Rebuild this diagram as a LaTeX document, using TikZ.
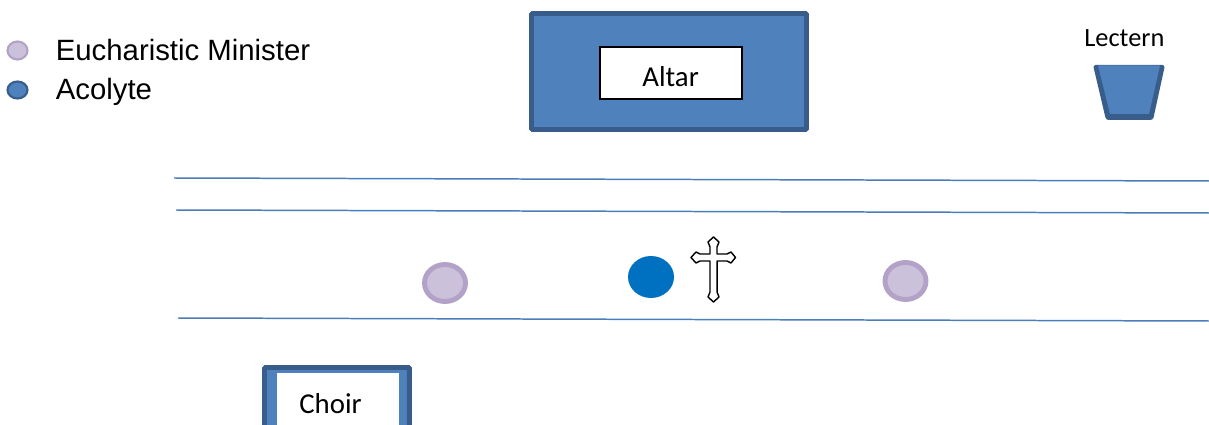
\documentclass[tikz,border=0pt]{standalone}
\usepackage{fontspec}
\setmainfont{Liberation Sans}
\newfontfamily\CarlitoFont{Carlito}
\usepackage{xcolor}
\definecolor{ColBlue}{RGB}{79,129,189}
\definecolor{ColDark}{RGB}{56,93,138}
\definecolor{ColLine}{RGB}{74,126,187}
\definecolor{ColLilac}{RGB}{204,193,218}
\definecolor{ColLilacDark}{RGB}{179,162,199}
\definecolor{ColAcolyte}{RGB}{0,112,192}
\tikzstyle{Table}=[draw=ColDark,fill=ColBlue,line width=2.8pt,rounded corners=.6pt,
inner sep=0pt]
\tikzstyle{Card}=[draw=black,fill=white,line width=1.1pt,inner sep=0pt]
\tikzstyle{Label}=[inner sep=0pt,anchor=base west]
\tikzstyle{LegendText}=[Label,font=\fontsize{16.7}{19}\selectfont]
\tikzstyle{CalibriText}=[Label,font=\CarlitoFont\fontsize{16.4}{18}\selectfont]
\tikzstyle{Minister}=[ellipse,draw=ColLilacDark,fill=ColLilac,line width=2.8pt,
inner sep=0pt,minimum width=.82cm,minimum height=.74cm]
\tikzstyle{AcolyteDot}=[ellipse,fill=ColAcolyte,inner sep=0pt,
minimum width=.92cm,minimum height=.84cm]
\tikzstyle{KeyMinister}=[ellipse,draw=ColLilacDark,fill=ColLilac,line width=1.2pt,
inner sep=0pt,minimum width=.4cm,minimum height=.36cm]
\tikzstyle{KeyAcolyte}=[ellipse,draw=ColDark,fill=ColBlue,line width=1.2pt,
inner sep=0pt,minimum width=.4cm,minimum height=.34cm]
\tikzstyle{Aisle}=[draw=ColLine,line width=.85pt]
\usetikzlibrary{shapes.geometric}
\begin{document}
\begin{tikzpicture}[x=.02cm,y=.02cm]
        \clip(0,0)rectangle(1209,-425);
        % legend
        \node[KeyMinister](keym)at(17.5,-50.5){};
        \node[KeyAcolyte](keya)at(17.5,-90){};
        \node[LegendText](keymt)at(55.5,-60.5){Eucharistic Minister};
        \node[LegendText](keyat)at(55.5,-99.5){Acolyte};
        % altar
        \node[Table,minimum width=5.5cm,minimum height=2.32cm](altar)at(669,-71.5){};
        \node[Card,minimum width=2.84cm,minimum height=1.04cm](altarc)at(671,-73){};
        \node[CalibriText](altart)at(642,-87){Altar};
        % lectern
        \node[CalibriText,font=\CarlitoFont\fontsize{15}{18}\selectfont](lecternt)at(1084,-47){Lectern};
        \fill[ColDark,rounded corners=1.5pt](1093,-65)--(1165,-65)--(1153,-120)--(1106,-120)--cycle;
        \fill[ColBlue](1098,-65.5)--(1160,-65.5)--(1149,-114)--(1110,-114)--cycle;
        % aisle lines
        \coordinate(a1)at(174,-178);
        \coordinate(a2)at(1209,-181);
        \coordinate(b1)at(176,-210);
        \coordinate(b2)at(1209,-213);
        \coordinate(c1)at(178,-318);
        \coordinate(c2)at(1209,-321);
        \draw[Aisle](a1)--(a2);
        \draw[Aisle](b1)--(b2);
        \draw[Aisle](c1)--(c2);
        % procession
        \node[Minister](m1)at(445,-283){};
        \node[AcolyteDot](ac)at(651,-277){};
        \node[Minister](m2)at(905.5,-281){};
        % cross
        \draw[black,fill=white,line width=.8pt,line join=round](710,-247)--(708,-242)--(713.5,-237)--(719,-242)--(717,-247)--(717,-254)--(727,-254)--(731,-252)--(735.5,-257.5)--(731,-263)--(727,-261)--(717,-261)--(717,-292)--(719,-297)--(713.5,-302)--(708,-297)--(710,-292)--(710,-261)--(700,-261)--(696,-263)--(691,-257.5)--(696,-252)--(700,-254)--(710,-254)--cycle;
        \draw[black,line width=.9pt](717.5,-262)--(717.5,-292);
        % choir
        \node[Table,minimum width=2.9cm,minimum height=2cm,anchor=north west](choir)at(262,-365){};
        \fill[white](277,-373)rectangle(399,-430);
        \node[CalibriText](choirt)at(299,-413.5){Choir};
\end{tikzpicture}
\end{document}
